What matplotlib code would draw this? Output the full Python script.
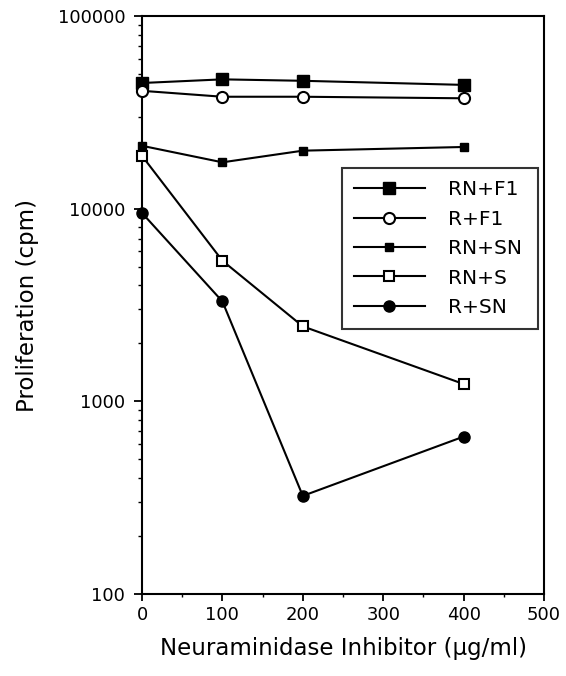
import matplotlib
matplotlib.use("Agg")
import matplotlib.pyplot as plt
from matplotlib.ticker import FixedLocator, NullFormatter

plt.rcParams['font.family'] = ['DejaVu Sans']

x = [0, 100, 200, 400]
rn_f1 = [44900, 46900, 46100, 43900]
r_f1 = [40900, 38100, 38100, 37400]
rn_sn = [21200, 17400, 20000, 20900]
rn_s = [18800, 5370, 2450, 1230]
r_sn = [9500, 3300, 323, 656]

series_labels = ["RN+F1", "R+F1", "RN+SN", "RN+S", "R+SN"]
yticks = [100, 1000, 10000, 100000]
ytick_labels = ["100", "1000", "10000", "100000"]
xticks = [0, 100, 200, 300, 400, 500]

fig = plt.figure(figsize=(5.66, 6.76), dpi=100)
ax = fig.add_axes([142/566, 1-594/676, (544-142)/566, (594-16)/676])

lw = 1.5
ax.plot(x, rn_f1, '-', color='black', lw=lw, marker='s', ms=8, mfc='black', mec='black', label=series_labels[0], clip_on=False, zorder=3)
ax.plot(x, r_f1, '-', color='black', lw=lw, marker='o', ms=8, mfc='white', mec='black', mew=1.5, label=series_labels[1], clip_on=False, zorder=3)
ax.plot(x, rn_sn, '-', color='black', lw=lw, marker='s', ms=5.5, mfc='black', mec='black', label=series_labels[2], clip_on=False, zorder=3)
ax.plot(x, rn_s, '-', color='black', lw=lw, marker='s', ms=7.5, mfc='white', mec='black', mew=1.5, label=series_labels[3], clip_on=False, zorder=3)
ax.plot(x, r_sn, '-', color='black', lw=lw, marker='o', ms=8, mfc='black', mec='black', label=series_labels[4], clip_on=False, zorder=3)

ax.set_yscale('log')
ax.set_ylim(100, 100000)
ax.set_xlim(0, 500)
ax.set_yticks(yticks)
ax.set_yticklabels(ytick_labels)
ax.yaxis.set_minor_locator(FixedLocator([m * 10**e for e in range(2, 5) for m in range(2, 10)]))
ax.yaxis.set_minor_formatter(NullFormatter())
ax.set_xticks(xticks)
ax.xaxis.set_minor_locator(FixedLocator([50, 150, 250, 350, 450]))

for s in ax.spines.values():
    s.set_linewidth(1.5)

ax.tick_params(axis='y', which='major', direction='out', length=6, width=1.3, pad=6, labelsize=13)
ax.tick_params(axis='y', which='minor', direction='out', length=3, width=1.0)
ax.tick_params(axis='x', which='major', direction='out', length=5, width=1.3, pad=4, labelsize=13)
ax.tick_params(axis='x', which='minor', direction='out', length=2.5, width=1.0)

ax.set_ylabel("Proliferation (cpm)", fontsize=16.5, labelpad=13.5)
ax.set_xlabel("Neuraminidase Inhibitor (µg/ml)", fontsize=16.5, labelpad=9)

leg = ax.legend(loc='upper left',
                bbox_to_anchor=(342/566, 1-327/676, (538-342)/566, (327-168)/676),
                bbox_transform=fig.transFigure, mode='expand',
                frameon=True, fancybox=False, edgecolor='black', fontsize=14.5,
                handlelength=3.5, handletextpad=1.15, labelspacing=0.52, borderpad=0.6,
                borderaxespad=0)
leg.get_frame().set_linewidth(1.5)

fig.savefig("out.png", dpi=100, facecolor='white')
